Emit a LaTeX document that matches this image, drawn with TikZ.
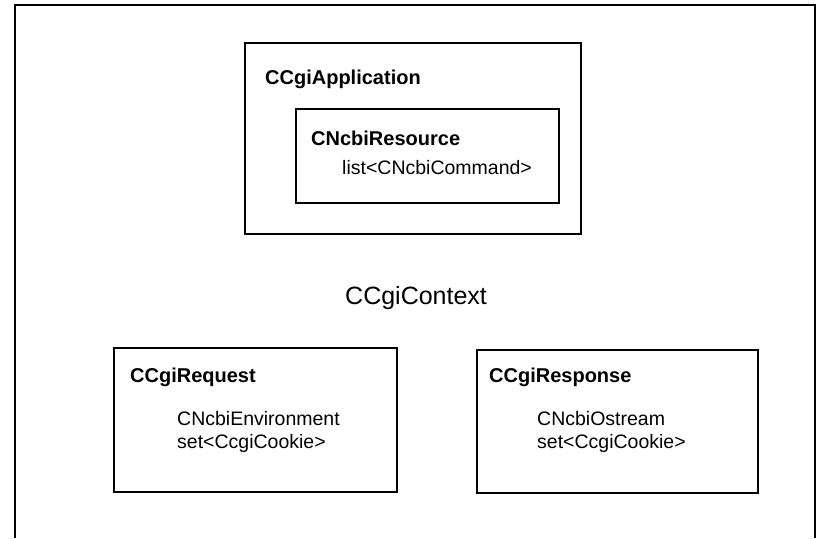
\documentclass[tikz,border=0pt]{standalone}
\usepackage{fontspec}
\setmainfont{Liberation Sans}
\usepackage{tikz}
\usetikzlibrary{positioning}

\begin{document}
\begin{tikzpicture}[x=1pt,y=-1pt,
  box/.style={draw,line width=1.6pt,anchor=north west,inner sep=0pt},
  title/.style={anchor=base west,inner sep=0pt,font=\fontsize{20}{24}\selectfont\bfseries},
  item/.style={anchor=base west,inner sep=0pt,align=left,font=\fontsize{19.5}{23}\selectfont}]
  \useasboundingbox (0,0) rectangle (819,538);
  % open frame of the context
  \draw[line width=1.6pt] (15,538) -- (15,5) -- (815,5) -- (815,538);

  \node[box,minimum width=336pt,minimum height=191pt] (app) at (244,42) {};
  \node[box,minimum width=263pt,minimum height=94pt] (res) at (295,108) {};
  \node[box,minimum width=283pt,minimum height=144pt] (req) at (113,347) {};
  \node[box,minimum width=281pt,minimum height=143pt] (resp) at (476,349) {};

  \node[title] (appname) at (265,84) {CCgiApplication};
  \node[title] (resname) at (311,145) {CNcbiResource};
  \node[item] (cmds) at (342,174) {list<CNcbiCommand>};

  \node[anchor=base west,inner sep=0pt,font=\fontsize{25}{30}\selectfont] (ctx) at (345,304) {CCgiContext};

  \node[title] (reqname) at (130,382) {CCgiRequest};
  \node[item] (env) at (177,425) {CNcbiEnvironment};
  \node[item] (reqcookie) at (177,448) {set<CcgiCookie>};

  \node[title] (respname) at (489,382) {CCgiResponse};
  \node[item] (ostr) at (537,425) {CNcbiOstream};
  \node[item] (respcookie) at (537,448) {set<CcgiCookie>};
 \end{tikzpicture}
\end{document}
